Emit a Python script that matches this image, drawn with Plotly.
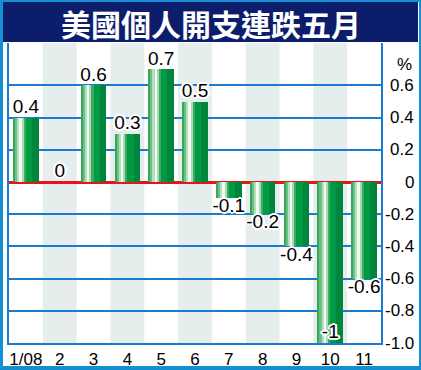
import plotly.graph_objects as go

# ---- data ----
months = ["1/08", "2", "3", "4", "5", "6", "7", "8", "9", "10", "11"]
values = [0.4, 0, 0.6, 0.3, 0.7, 0.5, -0.1, -0.2, -0.4, -1.0, -0.6]
value_labels = ["0.4", "0", "0.6", "0.3", "0.7", "0.5", "-0.1", "-0.2", "-0.4", "-1", "-0.6"]
y_ticks = [0.6, 0.4, 0.2, 0, -0.2, -0.4, -0.6, -0.8, -1.0]
y_tick_labels = ["0.6", "0.4", "0.2", "0", "-0.2", "-0.4", "-0.6", "-0.8", "-1.0"]
title_text = "美國個人開支連跌五月"
unit_text = "%"

# ---- style ----
W, H = 421, 370
Y_RANGE = [-1.0, 0.864]
BW = 0.76
BLUE = "#1B7BD0"
FRAME = "#1490D2"
NAVY = "#0B1D6B"
BAND = "#E5EDED"
RED = "#E8141B"
FONT = "Liberation Sans, Arial, sans-serif"

stripes = [
    (0.00, 1.00, "#009a45"),
    (0.00, 0.08, "#35a65a"),
    (0.08, 0.16, "#6cc083"),
    (0.16, 0.24, "#b5e0c0"),
    (0.24, 0.34, "#f2faf3"),
    (0.34, 0.42, "#a8dab5"),
    (0.42, 0.50, "#3aab60"),
    (0.74, 1.00, "#00863c"),
]

xpos = list(range(len(months)))

fig = go.Figure()
for s, e, c in stripes:
    fig.add_trace(go.Bar(
        x=xpos, y=values, base=0,
        width=BW * (e - s), offset=-BW / 2 + BW * s,
        marker=dict(color=c, line=dict(width=0)),
        hoverinfo="skip", showlegend=False,
    ))

positions = []
for v in values:
    if v <= Y_RANGE[0]:
        positions.append("top center")
    elif v >= 0:
        positions.append("top center")
    else:
        positions.append("bottom center")

halo = ", ".join(f"{dx}px {dy}px 0 #fff" for dx, dy in
                 [(2, 0), (-2, 0), (0, 2), (0, -2), (1, 1), (-1, -1), (1, -1), (-1, 1),
                  (2, 1), (-2, 1), (2, -1), (-2, -1)])
fig.add_trace(go.Scatter(
    x=xpos, y=values, text=value_labels, mode="text",
    textposition=positions,
    textfont=dict(size=19, color="black", family=FONT, shadow=halo),
    cliponaxis=False, hoverinfo="skip", showlegend=False,
))

dom_x = [9 / W, 381 / W]
dom_y = [(H - 343) / H, (H - 43) / H]

shapes = [
    dict(type="rect", xref="paper", yref="paper", x0=3 / W, x1=419 / W,
         y0=1 - 366 / H, y1=1 - 2 / H, fillcolor="white", line_width=0, layer="below"),
    dict(type="rect", xref="paper", yref="paper", x0=3 / W, x1=418 / W,
         y0=1 - 42 / H, y1=1 - 2 / H, fillcolor=NAVY, line_width=0, layer="below"),
]
for i in xpos:
    if i % 2 == 1:
        shapes.append(dict(type="rect", xref="x", yref="y domain", x0=i - 0.5, x1=i + 0.5,
                           y0=0, y1=1, fillcolor=BAND, line_width=0, layer="below"))

annotations = [
    dict(text=f"<b>{title_text}</b>", xref="paper", yref="paper", x=0.5, y=1 - 23 / H,
         xanchor="center", yanchor="middle", showarrow=False,
         font=dict(size=30, color="white", family="Noto Sans CJK TC")),
    dict(text=unit_text, xref="paper", yref="paper", x=404 / W, y=1 - 64 / H,
         xanchor="center", yanchor="middle", showarrow=False,
         font=dict(size=17, color="black", family=FONT)),
]
for v, t in zip(y_ticks, y_tick_labels):
    annotations.append(dict(text=t, xref="paper", yref="y", x=416 / W, y=v,
                            xanchor="right", yanchor="middle", showarrow=False,
                            font=dict(size=17, color="black", family=FONT)))

fig.update_layout(
    width=W, height=H,
    margin=dict(l=0, r=0, t=0, b=0, autoexpand=False),
    paper_bgcolor=FRAME, plot_bgcolor="rgba(0,0,0,0)",
    barmode="overlay", bargap=0,
    shapes=shapes, annotations=annotations,
    xaxis=dict(domain=dom_x, range=[-0.5, len(months) - 0.5],
               tickvals=xpos, ticktext=months, showgrid=False, zeroline=False,
               showline=True, linecolor=BLUE, linewidth=2,
               ticks="", ticklabelstandoff=0,
               tickfont=dict(size=17, color="black", family=FONT), automargin=False,
               fixedrange=True),
    yaxis=dict(domain=dom_y, range=Y_RANGE, side="right", tickvals=y_ticks,
               showticklabels=False, showgrid=True, gridcolor=BLUE, gridwidth=1.5,
               zeroline=True, zerolinecolor=RED, zerolinewidth=2.5,
               showline=True, mirror=True, linecolor=BLUE, linewidth=2,
               automargin=False, fixedrange=True),
    font=dict(family=FONT),
)

fig.write_html("out.html", config={"displayModeBar": False})
